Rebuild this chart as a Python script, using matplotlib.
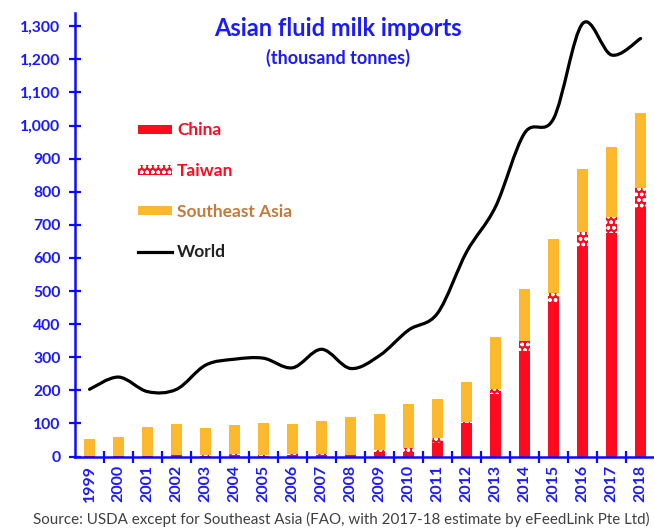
import numpy as np
import matplotlib.pyplot as plt
from matplotlib.path import Path
from matplotlib.patches import PathPatch, Patch
from matplotlib.lines import Line2D
from matplotlib.ticker import FuncFormatter, FixedLocator

# --------------------------
# Data (thousand tonnes)
# --------------------------
years = [str(y) for y in range(1999, 2019)]
china = [1, 1, 2, 4, 2, 4, 3, 5, 4, 4, 10, 15, 40, 100, 190, 320, 463, 634, 676, 750]
taiwan = [1, 1, 1, 2, 2, 3, 3, 3, 3, 2, 10, 12, 15, 5, 15, 30, 30, 45, 48, 60]
se_asia = [50, 58, 85, 92, 82, 88, 96, 90, 100, 114, 107, 131, 119, 119, 155, 155, 164, 191, 212, 229]
world = [203, 240, 196, 203, 276, 294, 297, 268, 324, 266, 305, 382, 433, 618, 755, 977, 1021, 1308, 1213, 1263]

BLUE = '#1a1aff'
RED = '#ff0a1e'
GOLD = '#fdb92e'

plt.rcParams['font.family'] = ['Lato', 'DejaVu Sans']

fig = plt.figure(figsize=(6.54, 5.28), dpi=100)
ax = fig.add_axes([0.1147, 0.1354, 0.887, 0.8400])

x = np.arange(len(years))
w = 0.36
china_a = np.array(china)
taiwan_a = np.array(taiwan)
ax.bar(x, china, width=w, color=RED, linewidth=0, zorder=2)
ax.bar(x, taiwan, width=w, bottom=china_a, facecolor=RED, edgecolor='white',
       hatch='ooo', linewidth=0, zorder=2)
ax.bar(x, se_asia, width=w, bottom=china_a + taiwan_a, color=GOLD, linewidth=0, zorder=2)

# --------------------------
# Smoothed world line (Catmull-Rom -> cubic Bezier)
# --------------------------
pts = np.column_stack([x, world]).astype(float)
verts = [tuple(pts[0])]
codes = [Path.MOVETO]
for i in range(len(pts) - 1):
    p0 = pts[i - 1] if i > 0 else pts[i]
    p1, p2 = pts[i], pts[i + 1]
    p3 = pts[i + 2] if i + 2 < len(pts) else pts[i + 1]
    c1 = p1 + (p2 - p0) / 6.0
    c2 = p2 - (p3 - p1) / 6.0
    verts += [tuple(c1), tuple(c2), tuple(p2)]
    codes += [Path.CURVE4] * 3
ax.add_patch(PathPatch(Path(verts, codes), facecolor='none', edgecolor='black',
                       linewidth=2.3, capstyle='round', zorder=3))

# --------------------------
# Axes styling
# --------------------------
ax.set_xlim(-0.5, len(years) - 0.5)
ax.set_ylim(0, 1340)
for side in ['top', 'right']:
    ax.spines[side].set_visible(False)
for side in ['left', 'bottom']:
    ax.spines[side].set_color('#0a0aff')
    ax.spines[side].set_linewidth(1.8)

ax.set_yticks(np.arange(0, 1301, 100))
ax.yaxis.set_major_formatter(FuncFormatter(lambda v, p: f'{int(v):,}'))
ax.tick_params(axis='y', direction='inout', length=9, width=1.6, color='#0a0aff',
               labelcolor=BLUE, labelsize=11.3, pad=6)
for lbl in ax.get_yticklabels():
    lbl.set_fontweight('bold')

ax.set_xticks(x)
ax.set_xticklabels(years, rotation=90, fontsize=11.5, fontweight='bold', color=BLUE)
ax.tick_params(axis='x', which='major', length=0, pad=6)
ax.xaxis.set_minor_locator(FixedLocator(np.arange(0.5, len(years) - 0.5, 1)))
ax.tick_params(axis='x', which='minor', direction='inout', length=9, width=1.6, color='#0a0aff')

# --------------------------
# Titles, legend, source
# --------------------------
fig.text(0.516, 0.946, 'Asian fluid milk imports', ha='center', va='center',
         fontsize=17, fontweight='bold', color=BLUE)
fig.text(0.517, 0.890, '(thousand tonnes)', ha='center', va='center',
         fontsize=13, fontweight='bold', color=BLUE)

handles = [
    Patch(facecolor=RED, linewidth=0),
    Patch(facecolor=RED, edgecolor='white', hatch='ooo', linewidth=0),
    Patch(facecolor=GOLD, linewidth=0),
    Line2D([], [], color='black', linewidth=2.3),
]
labels = ['China', 'Taiwan', 'Southeast Asia', 'World']
leg = fig.legend(handles, labels, loc='upper left', bbox_to_anchor=(0.211, 0.768),
                 frameon=False, prop={'weight': 'bold', 'size': 12.5},
                 labelcolor=[RED, RED, '#c47a3c', '#222222'],
                 handlelength=1.95, handleheight=0.45, handletextpad=0.3,
                 labelspacing=1.42, borderpad=0, borderaxespad=0)

fig.text(0.522, 0.002, 'Source: USDA except for Southeast Asia (FAO, with 2017-18 estimate by eFeedLink Pte Ltd)',
         ha='center', va='bottom', fontsize=10.9, color='#404040')

fig.savefig('out.png', dpi=100)
